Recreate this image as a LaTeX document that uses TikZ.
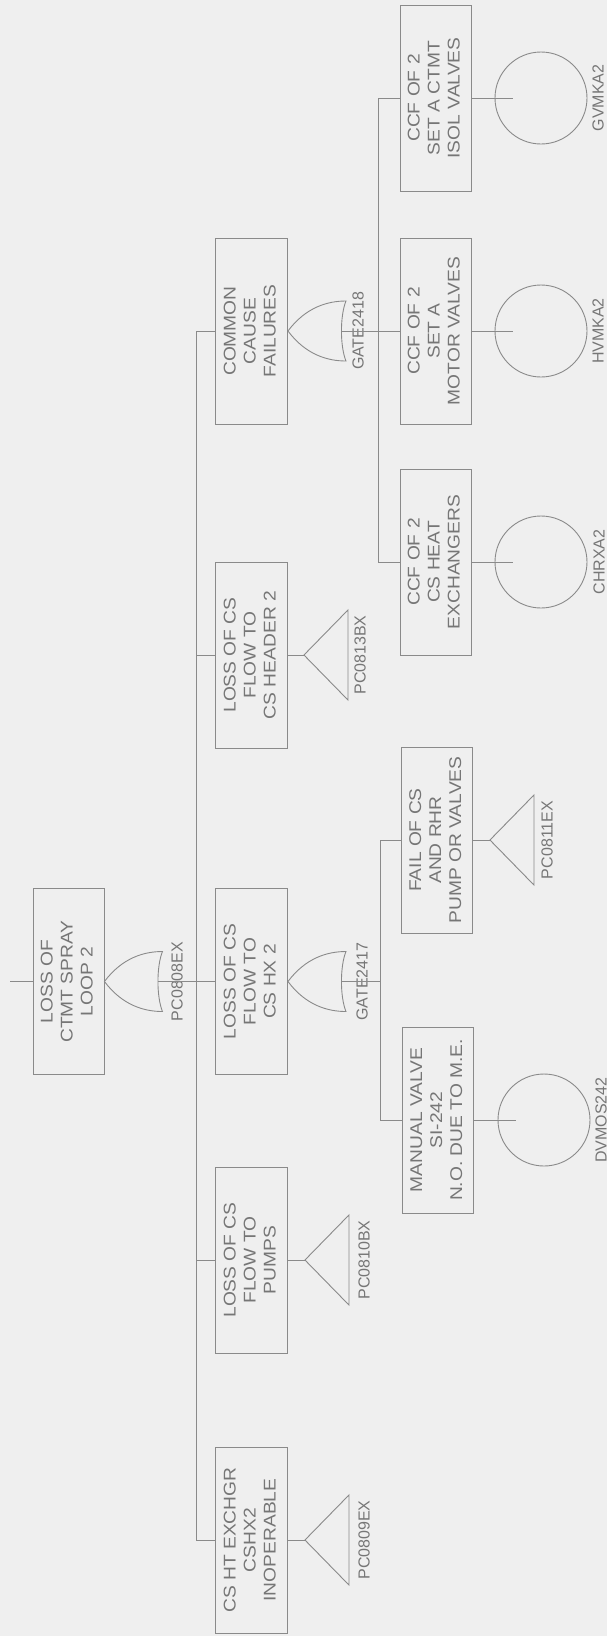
\documentclass[tikz,border=0pt]{standalone}
\usepackage{fontspec}
\usetikzlibrary{calc}
\newfontfamily\plotfont[FakeStretch=1.13]{Liberation Sans}
\newfontfamily\lblfont{Liberation Sans}
\definecolor{bgc}{RGB}{239,239,239}
\definecolor{ink}{RGB}{138,138,138}
\definecolor{txt}{RGB}{118,118,118}
\newcommand{\vtxt}[1]{\rotatebox{90}{\begin{tabular}{@{}c@{}}#1\end{tabular}}}
\tikzset{
  ev/.style={draw=ink, line width=0.9pt, minimum width=72pt, minimum height=186pt,
    inner sep=0pt, text=txt, font=\plotfont\fontsize{17}{20}\selectfont},
  lbl/.style={rotate=90, text=txt, inner sep=0pt, font=\lblfont\fontsize{16}{18}\selectfont},
  wire/.style={draw=ink, line width=0.9pt},
  basic/.style={circle, draw=ink, line width=0.9pt, minimum size=92pt, inner sep=0pt},
  orgate/.pic={
    \draw[wire] (0,0) .. controls (18,-24) and (40,-30) .. (58,-30)
      .. controls (52,-15) and (52,15) .. (58,30)
      .. controls (40,30) and (18,24) .. (0,0) -- cycle;
    \coordinate (-in) at (0,0);
    \coordinate (-out) at (53.5,0);
  },
  xfer/.pic={
    \draw[wire] (0,0) -- (44,-45) -- (44,45) -- cycle;
    \coordinate (-in) at (0,0);
  }
}
\begin{document}
\begin{tikzpicture}[x=1pt,y=-1pt]
\useasboundingbox[fill=bgc] (0,0) rectangle (607,1636);

% top event
\node[ev, minimum width=71pt] (top) at (68.5,981.5) {\vtxt{LOSS OF\\CTMT SPRAY\\LOOP 2}};
\coordinate (topin) at (10,981.5);
\draw[wire] (topin) -- (top.west);
\pic (g0) at (top.east) {orgate};
\node[lbl] (l0) at (177,981.5) {PC0808EX};

% level 2
\node[ev] (ccf)  at (251.5,331)  {\vtxt{COMMON\\CAUSE\\FAILURES}};
\node[ev] (hdr)  at (251.5,655)  {\vtxt{LOSS OF CS\\FLOW TO\\CS HEADER 2}};
\node[ev] (hx)   at (251.5,981.5){\vtxt{LOSS OF CS\\FLOW TO\\CS HX 2}};
\node[ev] (pmp)  at (251.5,1260) {\vtxt{LOSS OF CS\\FLOW TO\\PUMPS}};
\node[ev] (cshx) at (251.5,1540) {\vtxt{CS HT EXCHGR\\CSHX2\\INOPERABLE}};

\coordinate (bus1) at (196,981.5);
\draw[wire] (g0-out) -- (hx.west);
\draw[wire] (ccf.west) -- (ccf.west -| bus1) -- (cshx.west -| bus1) -- (cshx.west);
\draw[wire] (hdr.west -| bus1) -- (hdr.west);
\draw[wire] (pmp.west -| bus1) -- (pmp.west);

% transfers of level 2
\pic (t1) at ($(hdr.east)+(16,0)$) {xfer};
\draw[wire] (hdr.east) -- (t1-in);
\node[lbl] (l1) at (360,655) {PC0813BX};
\pic (t2) at ($(pmp.east)+(17,0)$) {xfer};
\draw[wire] (pmp.east) -- (t2-in);
\node[lbl] (l2) at (364,1260) {PC0810BX};
\pic (t3) at ($(cshx.east)+(17,0)$) {xfer};
\draw[wire] (cshx.east) -- (t3-in);
\node[lbl] (l3) at (364,1540) {PC0809EX};

% GATE2418
\pic (g1) at (ccf.east) {orgate};
\node[lbl] (l4) at (358,331) {GATE2418};
\node[ev, minimum width=71pt] (isol)  at (435.5,98)  {\vtxt{CCF OF 2\\SET A CTMT\\ISOL VALVES}};
\node[ev, minimum width=71pt] (motor) at (435.5,331) {\vtxt{CCF OF 2\\SET A\\MOTOR VALVES}};
\node[ev, minimum width=71pt] (heat)  at (435.5,562) {\vtxt{CCF OF 2\\CS HEAT\\EXCHANGERS}};
\coordinate (bus2) at (378,331);
\draw[wire] (g1-out) -- (motor.west);
\draw[wire] (isol.west) -- (isol.west -| bus2) -- (heat.west -| bus2) -- (heat.west);

% basic events
\node[basic] (c1) at (541,98) {};
\node[basic] (c2) at (541,331) {};
\node[basic] (c3) at (541,562) {};
\coordinate (c1s) at (513,98);
\coordinate (c2s) at (513,331);
\coordinate (c3s) at (513,562);
\draw[wire] (isol.east) -- (c1s);
\draw[wire] (motor.east) -- (c2s);
\draw[wire] (heat.east) -- (c3s);
\node[lbl] (l5) at (598,98) {GVMKA2};
\node[lbl] (l6) at (598,331) {HVMKA2};
\node[lbl] (l7) at (599,562) {CHRXA2};

% GATE2417
\pic (g2) at (hx.east) {orgate};
\node[lbl] (l8) at (362,981.5) {GATE2417};
\node[ev, minimum width=71pt] (fail) at (437,840)  {\vtxt{FAIL OF CS\\AND RHR\\PUMP OR VALVES}};
\node[ev, minimum width=71pt] (man)  at (438,1120) {\vtxt{MANUAL VALVE\\SI-242\\N.O. DUE TO M.E.}};
\coordinate (bus3) at (380,981.5);
\draw[wire] (g2-out) -- (bus3);
\draw[wire] (fail.west) -- (fail.west -| bus3) -- (man.west -| bus3) -- (man.west);

\pic (t4) at ($(fail.east)+(17,0)$) {xfer};
\draw[wire] (fail.east) -- (t4-in);
\node[lbl] (l9) at (547,840) {PC0811EX};

\node[basic] (c4) at (544,1120) {};
\coordinate (c4s) at (516,1120);
\draw[wire] (man.east) -- (c4s);
\node[lbl] (l10) at (601,1120) {DVMOS242};
\end{tikzpicture}
\end{document}
